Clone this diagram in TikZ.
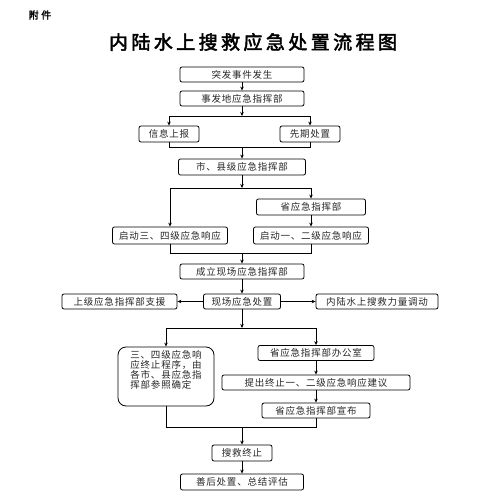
\documentclass[tikz,border=0pt]{standalone}
\usepackage{fontspec}
\usetikzlibrary{arrows.meta}
\newfontfamily\cjkbox[LetterSpace=8]{Noto Sans CJK SC}
\newfontfamily\cjktitle[FakeBold=2.5,LetterSpace=18]{Noto Sans CJK SC}
\newfontfamily\cjkhead[FakeBold=2,LetterSpace=25]{Noto Sans CJK SC}
\tikzset{
  fbox/.style={draw, line width=0.8pt, rounded corners=2pt, inner sep=0pt,
    font=\cjkbox\fontsize{9.5}{11}\selectfont, text=black!85},
  conn/.style={line width=0.8pt},
  arr/.style={line width=0.8pt, -{Stealth[length=4pt,width=3.5pt]}},
}
\begin{document}
\begin{tikzpicture}[x=1pt,y=-1pt]
\useasboundingbox (0,0) rectangle (500,500);
\node[font=\cjkhead\fontsize{10}{12}\selectfont] (fj) at (40,15) {附件};
\node[font=\cjktitle\fontsize{19}{22}\selectfont] (title) at (253,42) {内陆水上搜救应急处置流程图};

\node[fbox, minimum width=124pt, minimum height=15pt] (n1) at (242,74.5) {突发事件发生};
\node[fbox, minimum width=124pt, minimum height=15pt] (n2) at (242,98.5) {事发地应急指挥部};
\node[fbox, minimum width=60pt, minimum height=16pt] (n3) at (169,134) {信息上报};
\node[fbox, minimum width=60pt, minimum height=16pt] (n4) at (310,134) {先期处置};
\node[fbox, minimum width=127pt, minimum height=16pt] (n5) at (242,167) {市、县级应急指挥部};
\node[fbox, minimum width=109pt, minimum height=16pt] (n6) at (311,207) {省应急指挥部};
\node[fbox, minimum width=115pt, minimum height=17pt] (n7) at (170,235.5) {启动三、四级应急响应};
\node[fbox, minimum width=115pt, minimum height=17pt] (n8) at (311,235.5) {启动一、二级应急响应};
\node[fbox, minimum width=124pt, minimum height=15pt] (n9) at (242,271.5) {成立现场应急指挥部};
\node[fbox, minimum width=77pt, minimum height=15pt] (n10) at (242,301.5) {现场应急处置};
\node[fbox, minimum width=115pt, minimum height=15pt] (n11) at (119.5,301.5) {上级应急指挥部支援};
\node[fbox, minimum width=122pt, minimum height=15pt] (n12) at (377,301.5) {内陆水上搜救力量调动};
\node[fbox, rounded corners=8pt, minimum width=96pt, minimum height=59pt, align=left,
  font=\cjkbox\fontsize{9.5}{10}\selectfont] (n13) at (166,376.5)
  {三、四级应急响\\应终止程序，由\\各市、县应急指\\挥部参照确定\\[4pt]};
\node[fbox, minimum width=116pt, minimum height=15pt] (n14) at (316,353) {省应急指挥部办公室};
\node[fbox, minimum width=188pt, minimum height=15pt] (n15) at (316,382.5) {提出终止一、二级应急响应建议};
\node[fbox, minimum width=108pt, minimum height=15pt] (n16) at (316,410.5) {省应急指挥部宣布};
\node[fbox, minimum width=60pt, minimum height=16pt] (n17) at (242,453) {搜救终止};
\node[fbox, minimum width=123pt, minimum height=16pt] (n18) at (242,482) {善后处置、总结评估};

\coordinate (b1) at (242,116);
\coordinate (j1) at (242,147);
\coordinate (b2) at (242,188);
\coordinate (j2) at (242,253);
\coordinate (b3) at (242,328);
\coordinate (j3) at (242,427);

\draw[arr] (n1) -- (n2);
\draw[arr] (n2) -- (b1);
\draw[arr] (b1) -| (n3);
\draw[arr] (b1) -| (n4);
\draw[conn] (n3) |- (j1);
\draw[conn] (n4) |- (j1);
\draw[arr] (j1) -- (n5);
\draw[arr] (n5) -- (b2);
\draw[arr] (b2) -| (n7);
\draw[arr] (b2) -| (n6);
\draw[arr] (n6) -- (n8);
\draw[conn] (n7) |- (j2);
\draw[conn] (n8) |- (j2);
\draw[arr] (j2) -- (n9);
\draw[arr] (n9) -- (n10);
\draw[arr] (n10) -- (n11);
\draw[arr] (n10) -- (n12);
\draw[arr] (n10) -- (b3);
\draw[arr] (b3) -| (n13);
\draw[arr] (b3) -| (n14);
\draw[arr] (n14) -- (n15);
\draw[arr] (n15) -- (n16);
\draw[conn] (n13) |- (j3);
\draw[conn] (n16) |- (j3);
\draw[arr] (j3) -- (n17);
\draw[arr] (n17) -- (n18);
\end{tikzpicture}
\end{document}
